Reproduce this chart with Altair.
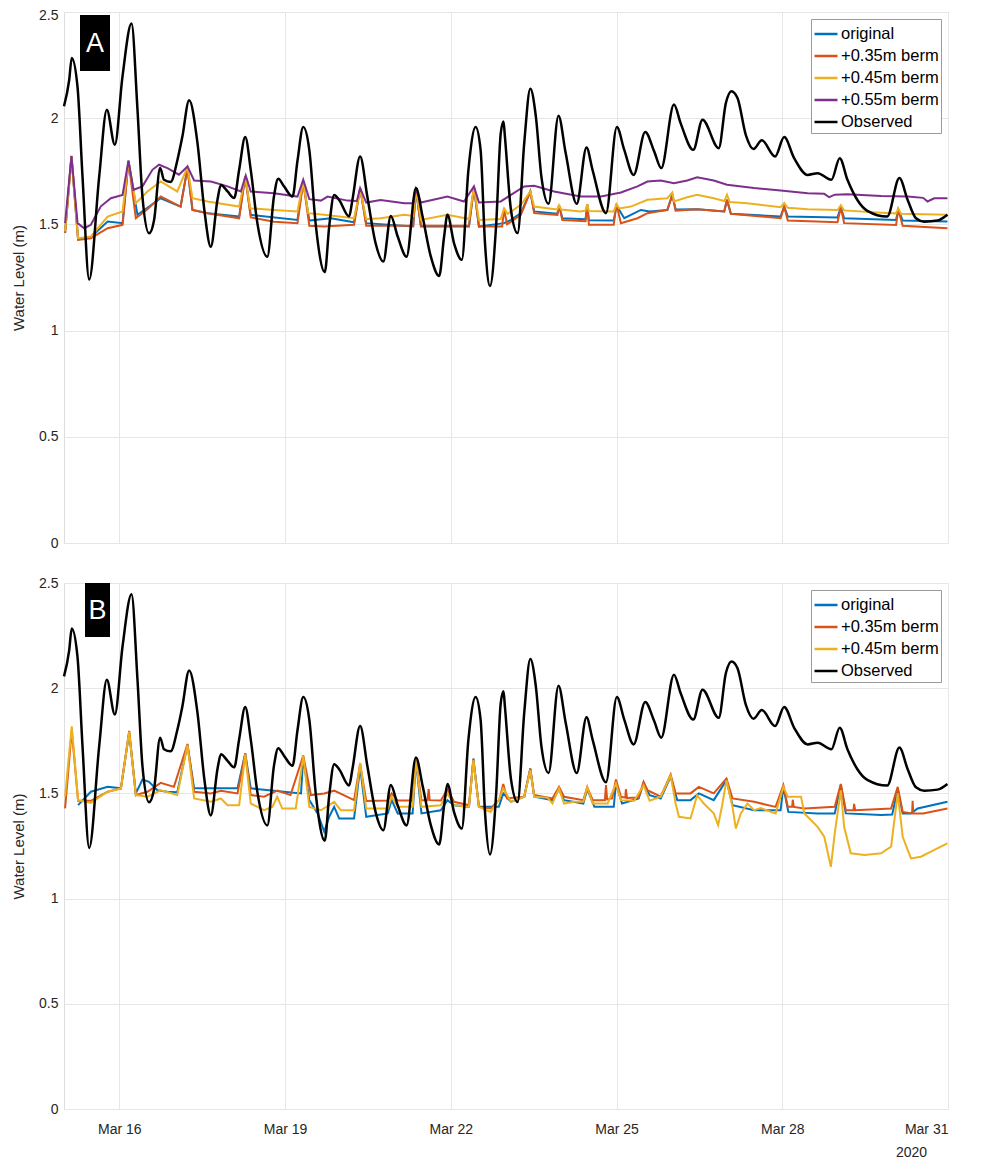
import altair as alt
import pandas as pd

START = "2020-03-15"

SERIES_A = ["original", "+0.35m berm", "+0.45m berm", "+0.55m berm", "Observed"]
SERIES_B = ["original", "+0.35m berm", "+0.45m berm", "Observed"]
COLORS = {"original": "#0072BD", "+0.35m berm": "#D95319", "+0.45m berm": "#EDB120",
          "+0.55m berm": "#7E2F8E", "Observed": "#000000"}
Y_TICKS = [0, 0.5, 1, 1.5, 2, 2.5]
X_TICK_DAYS = [16, 19, 22, 25, 28, 31]

# time in days since 15 Mar 2020 00:00, water level in m
OBS_T = [0.00, 0.094, 0.14, 0.244, 0.335, 0.456, 0.637, 0.775, 0.92, 1.059, 1.222, 1.33, 1.42, 1.54,
         1.63, 1.74, 1.81, 1.93, 2.05, 2.14, 2.265, 2.416, 2.54, 2.657, 2.778, 2.84, 2.96, 3.08, 3.17,
         3.28, 3.38, 3.50, 3.68, 3.80, 3.877, 3.985, 4.136, 4.226, 4.33, 4.44, 4.56, 4.72, 4.80, 4.89,
         4.98, 5.16, 5.22, 5.36, 5.49, 5.64, 5.78, 5.915, 6.04, 6.20, 6.37, 6.49, 6.64, 6.79, 6.88,
         6.94, 7.06, 7.20, 7.32, 7.45, 7.54, 7.62, 7.71, 7.82, 7.905, 7.955, 7.98, 8.09, 8.21, 8.33,
         8.44, 8.54, 8.64, 8.77, 8.95, 9.08, 9.28, 9.457, 9.566, 9.81, 10.006, 10.14, 10.31, 10.52,
         10.68, 10.81, 11.04, 11.16, 11.39, 11.556, 11.85, 11.98, 12.08, 12.19, 12.34, 12.48, 12.63,
         12.87, 13.035, 13.215, 13.46, 13.64, 13.89, 14.04, 14.18, 14.36, 14.54, 14.90, 15.12, 15.27,
         15.42, 15.57, 15.81, 15.99]
OBS_V = [2.056, 2.18, 2.284, 2.15, 1.725, 1.241, 1.725, 2.04, 1.875, 2.197, 2.446, 2.04, 1.63, 1.458,
         1.52, 1.765, 1.71, 1.70, 1.80, 1.91, 2.084, 1.883, 1.568, 1.395, 1.616, 1.686, 1.655, 1.624, 1.757,
         1.911, 1.757, 1.506, 1.348, 1.631, 1.715, 1.678, 1.631, 1.80, 1.958, 1.85, 1.49, 1.275, 1.49, 1.639,
         1.615, 1.537, 1.615, 1.82, 1.631, 1.411, 1.325, 1.54, 1.443, 1.348, 1.671, 1.537, 1.348, 1.257, 1.443,
         1.545, 1.411, 1.333, 1.757, 1.958, 1.851, 1.411, 1.21, 1.49, 1.93, 1.985, 1.914, 1.568, 1.459, 1.883,
         2.139, 2.009, 1.726, 1.597, 2.012, 1.836, 1.597, 1.862, 1.757, 1.553, 1.958, 1.851, 1.733, 1.935,
         1.845, 1.765, 2.064, 1.977, 1.851, 1.993, 1.859, 2.072, 2.127, 2.095, 1.922, 1.855, 1.896,
         1.82, 1.911, 1.812, 1.733, 1.741, 1.71, 1.812, 1.71, 1.615, 1.564, 1.537, 1.718, 1.615,
         1.529, 1.513, 1.518, 1.545]

# ---- Panel A ----
A_ORIG_T = [0.02, 0.135, 0.255, 0.486, 0.79, 1.06, 1.167, 1.33, 1.75, 2.11, 2.235, 2.325, 2.6, 3.17, 3.28,
            3.38, 4.226, 4.33, 4.44, 4.83, 5.25, 5.36, 5.47, 6.32, 6.37, 6.46, 7.33, 7.42, 7.51, 7.965,
            8.09, 8.27, 8.44, 8.51, 8.93, 8.96, 9.02, 9.44, 9.47, 9.5, 9.95, 10.0, 10.14, 10.44, 10.6,
            10.92, 11.01, 11.07, 11.46, 11.95, 12.0, 12.07, 12.97, 13.035, 13.1, 14.0, 14.06, 14.12,
            15.06, 15.1, 15.18, 15.99]
A_ORIG_V = [1.46, 1.82, 1.43, 1.44, 1.514, 1.506, 1.797, 1.545, 1.623, 1.584, 1.765, 1.568, 1.553, 1.537, 1.726,
            1.545, 1.521, 1.702, 1.518, 1.529, 1.51, 1.671, 1.506, 1.49, 1.666, 1.49, 1.49, 1.676, 1.49, 1.506,
            1.521, 1.553, 1.655, 1.561, 1.55, 1.59, 1.529, 1.524, 1.595, 1.52, 1.518, 1.59, 1.529, 1.568, 1.561,
            1.568, 1.639, 1.57, 1.571, 1.561, 1.616, 1.55, 1.537, 1.584, 1.537, 1.533, 1.58, 1.529,
            1.521, 1.57, 1.518, 1.514]

A_035_T = [0.02, 0.135, 0.255, 0.486, 0.79, 1.06, 1.167, 1.3, 1.51, 1.75, 2.11, 2.235, 2.325, 2.6, 3.17, 3.28,
           3.38, 3.8, 4.226, 4.33, 4.44, 4.71, 5.25, 5.36, 5.47, 6.32, 6.37, 6.46, 7.33, 7.42, 7.51, 7.93,
           7.965, 8.02, 8.27, 8.44, 8.51, 8.93, 8.96, 9.02, 9.44, 9.47, 9.5, 9.95, 10.0, 10.08, 10.38, 10.56,
           10.92, 11.01, 11.07, 11.46, 11.95, 12.0, 12.07, 12.97, 13.035, 13.1, 14.0, 14.06, 14.12, 15.06,
           15.1, 15.18, 15.99]
A_035_V = [1.46, 1.82, 1.427, 1.435, 1.482, 1.498, 1.797, 1.529, 1.571, 1.631, 1.584, 1.765, 1.568, 1.553, 1.529, 1.726,
           1.533, 1.513, 1.506, 1.702, 1.494, 1.49, 1.498, 1.671, 1.494, 1.494, 1.666, 1.494, 1.494, 1.676, 1.49, 1.49,
           1.57, 1.50, 1.545, 1.655, 1.553, 1.545, 1.59, 1.521, 1.515, 1.595, 1.498, 1.498, 1.595, 1.506, 1.529, 1.553,
           1.568, 1.639, 1.565, 1.571, 1.561, 1.616, 1.55, 1.529, 1.584, 1.518, 1.51, 1.58, 1.506, 1.497,
           1.57, 1.494, 1.482]

A_045_T = [0.02, 0.135, 0.255, 0.486, 0.79, 1.06, 1.167, 1.3, 1.51, 1.75, 2.05, 2.235, 2.325, 2.6, 3.17, 3.28,
           3.37, 3.8, 4.226, 4.33, 4.42, 4.71, 5.25, 5.36, 5.47, 5.73, 6.16, 6.32, 6.37, 6.46, 6.94, 7.33,
           7.42, 7.51, 7.905, 7.965, 8.03, 8.27, 8.44, 8.51, 8.75, 8.93, 8.96, 9.0, 9.35, 9.44, 9.47, 9.5,
           9.95, 10.0, 10.05, 10.26, 10.56, 10.92, 11.01, 11.04, 11.28, 11.46, 11.76, 11.95, 12.0, 12.05,
           12.37, 12.97, 13.035, 13.1, 13.46, 14.0, 14.06, 14.12, 14.79, 15.06, 15.1, 15.15, 15.99]
A_045_V = [1.467, 1.82, 1.435, 1.443, 1.537, 1.561, 1.797, 1.6, 1.655, 1.702, 1.655, 1.77, 1.623, 1.608, 1.584, 1.726,
           1.576, 1.568, 1.561, 1.702, 1.553, 1.545, 1.529, 1.663, 1.525, 1.529, 1.545, 1.54, 1.663, 1.521, 1.545, 1.525,
           1.676, 1.521, 1.525, 1.576, 1.55, 1.592, 1.655, 1.584, 1.576, 1.57, 1.59, 1.57, 1.561, 1.565, 1.595, 1.563,
           1.561, 1.595, 1.575, 1.584, 1.616, 1.623, 1.65, 1.608, 1.628, 1.639, 1.623, 1.61, 1.64, 1.605,
           1.6, 1.581, 1.6, 1.578, 1.571, 1.568, 1.59, 1.566, 1.555, 1.552, 1.575, 1.55, 1.545]

A_055_T = [0.02, 0.135, 0.245, 0.366, 0.486, 0.667, 0.848, 1.06, 1.167, 1.258, 1.42, 1.6, 1.72, 1.873, 2.08,
           2.235, 2.355, 2.66, 2.96, 3.2, 3.29, 3.38, 3.8, 4.226, 4.33, 4.44, 4.65, 4.77, 5.13, 5.3, 5.36,
           5.47, 5.73, 6.16, 6.32, 6.37, 6.46, 6.94, 7.24, 7.42, 7.51, 7.905, 8.09, 8.33, 8.51, 8.87, 9.35,
           9.72, 10.08, 10.38, 10.56, 10.8, 11.04, 11.28, 11.46, 11.76, 12.0, 12.49, 12.97, 13.46, 13.76,
           13.85, 13.95, 14.18, 14.79, 15.27, 15.55, 15.63, 15.75, 15.99]
A_055_V = [1.506, 1.823, 1.506, 1.482, 1.498, 1.585, 1.623, 1.639, 1.801, 1.663, 1.679, 1.757, 1.781, 1.765, 1.734,
           1.773, 1.707, 1.702, 1.679, 1.655, 1.73, 1.655, 1.647, 1.631, 1.71, 1.619, 1.612, 1.631, 1.612, 1.61, 1.671,
           1.603, 1.615, 1.6, 1.60, 1.666, 1.603, 1.631, 1.608, 1.679, 1.603, 1.608, 1.639, 1.679, 1.682, 1.655, 1.631,
           1.631, 1.65, 1.679, 1.702, 1.707, 1.694, 1.707, 1.722, 1.707, 1.687, 1.671, 1.66, 1.647, 1.644,
           1.628, 1.64, 1.642, 1.634, 1.631, 1.625, 1.608, 1.623, 1.623]

# ---- Panel B ----
B_ORIG_T = [0.255, 0.486, 0.79, 1.03, 1.18, 1.3, 1.42, 1.54, 1.69, 1.87, 2.05, 2.235, 2.355, 3.14, 3.28, 3.38,
            3.8, 4.29, 4.33, 4.44, 4.59, 4.71, 4.8, 4.89, 4.98, 5.25, 5.36, 5.47, 5.86, 5.93, 6.04, 6.31,
            6.37, 6.47, 6.82, 6.94, 7.06, 7.33, 7.41, 7.51, 7.87, 7.95, 8.09, 8.33, 8.44, 8.51, 8.84, 8.96,
            9.05, 9.40, 9.47, 9.6, 9.95, 9.99, 10.1, 10.40, 10.49, 10.6, 10.8, 10.98, 11.1, 11.34, 11.49,
            11.76, 11.99, 12.1, 12.49, 12.97, 13.02, 13.11, 13.64, 13.95, 14.06, 14.15, 14.79, 14.99,
            15.09, 15.18, 15.33, 15.45, 15.99]
B_ORIG_V = [1.444, 1.508, 1.531, 1.524, 1.79, 1.50, 1.566, 1.555, 1.515, 1.508, 1.505, 1.73, 1.524, 1.524, 1.69, 1.524,
            1.513, 1.5, 1.67, 1.468, 1.405, 1.318, 1.389, 1.436, 1.381, 1.381, 1.625, 1.389, 1.405, 1.468, 1.405, 1.405,
            1.655, 1.405, 1.42, 1.468, 1.444, 1.436, 1.666, 1.436, 1.436, 1.5, 1.46, 1.484, 1.618, 1.484, 1.468, 1.52,
            1.468, 1.452, 1.52, 1.436, 1.436, 1.547, 1.452, 1.476, 1.55, 1.492, 1.476, 1.58, 1.468, 1.468, 1.5,
            1.468, 1.563, 1.444, 1.42, 1.42, 1.531, 1.412, 1.405, 1.405, 1.54, 1.405, 1.397, 1.4,
            1.52, 1.405, 1.405, 1.428, 1.46]

B_035_T = [0.02, 0.14, 0.255, 0.486, 0.79, 1.03, 1.18, 1.3, 1.51, 1.75, 1.99, 2.235, 2.355, 2.66, 2.84, 3.14,
           3.28, 3.38, 3.62, 3.86, 4.1, 4.33, 4.47, 4.71, 4.89, 5.25, 5.36, 5.47, 5.86, 5.93, 6.04, 6.31,
           6.37, 6.47, 6.58, 6.6, 6.62, 6.82, 6.94, 7.06, 7.33, 7.41, 7.51, 7.72, 7.88, 7.95, 8.02, 8.33,
           8.44, 8.51, 8.84, 8.96, 9.05, 9.40, 9.47, 9.57, 9.79, 9.81, 9.83, 9.92, 9.99, 10.08, 10.16,
           10.17, 10.19, 10.40, 10.49, 10.56, 10.8, 10.98, 11.07, 11.34, 11.49, 11.76, 11.99, 12.1, 12.49,
           12.88, 13.02, 13.1, 13.18, 13.19, 13.21, 13.4, 13.95, 14.06, 14.15, 14.29, 14.3, 14.32, 14.97,
           15.09, 15.18, 15.35, 15.36, 15.37, 15.55, 15.99]
B_035_V = [1.429, 1.80, 1.465, 1.465, 1.508, 1.524, 1.797, 1.492, 1.508, 1.55, 1.531, 1.735, 1.508, 1.5, 1.513, 1.5,
           1.69, 1.492, 1.484, 1.513, 1.492, 1.68, 1.492, 1.5, 1.513, 1.468, 1.64, 1.464, 1.466, 1.5, 1.466, 1.466,
           1.655, 1.468, 1.468, 1.52, 1.468, 1.466, 1.518, 1.46, 1.444, 1.66, 1.436, 1.428, 1.47, 1.545, 1.476, 1.484,
           1.618, 1.492, 1.476, 1.531, 1.484, 1.468, 1.53, 1.468, 1.468, 1.539, 1.472, 1.476, 1.566, 1.484, 1.48,
           1.52, 1.478, 1.48, 1.555, 1.515, 1.484, 1.59, 1.5, 1.5, 1.531, 1.5, 1.571, 1.476, 1.46,
           1.436, 1.539, 1.436, 1.436, 1.47, 1.436, 1.428, 1.436, 1.545, 1.42, 1.42, 1.45, 1.42, 1.428,
           1.531, 1.412, 1.405, 1.465, 1.405, 1.405, 1.428]

B_045_T = [0.02, 0.14, 0.255, 0.486, 0.79, 1.03, 1.18, 1.3, 1.51, 1.75, 2.05, 2.235, 2.355, 2.66, 2.84, 2.96,
           3.17, 3.28, 3.38, 3.62, 3.77, 3.86, 3.95, 4.195, 4.33, 4.44, 4.65, 4.89, 5.01, 5.25, 5.36, 5.47,
           5.86, 5.93, 6.04, 6.31, 6.37, 6.47, 6.82, 6.94, 7.06, 7.33, 7.41, 7.51, 7.72, 7.87, 7.95, 8.09,
           8.33, 8.44, 8.51, 8.75, 8.84, 8.96, 9.05, 9.23, 9.40, 9.47, 9.57, 9.84, 9.99, 10.08, 10.32,
           10.49, 10.6, 10.8, 10.98, 11.07, 11.13, 11.34, 11.46, 11.58, 11.76, 11.84, 11.91, 11.99, 12.1,
           12.16, 12.25, 12.37, 12.49, 12.61, 12.88, 13.02, 13.1, 13.34, 13.4, 13.64, 13.76, 13.88, 13.95,
           14.06, 14.12, 14.24, 14.49, 14.79, 14.97, 15.09, 15.18, 15.33, 15.51, 15.69, 15.99]
B_045_V = [1.484, 1.819, 1.468, 1.455, 1.508, 1.524, 1.792, 1.492, 1.484, 1.515, 1.492, 1.73, 1.476, 1.46, 1.476, 1.444,
           1.444, 1.685, 1.452, 1.42, 1.436, 1.484, 1.428, 1.428, 1.677, 1.436, 1.42, 1.46, 1.42, 1.42, 1.645, 1.428,
           1.428, 1.484, 1.436, 1.436, 1.661, 1.436, 1.444, 1.5, 1.444, 1.436, 1.658, 1.436, 1.412, 1.468, 1.524, 1.46,
           1.484, 1.611, 1.484, 1.48, 1.452, 1.524, 1.452, 1.46, 1.46, 1.529, 1.452, 1.452, 1.547, 1.468, 1.465,
           1.539, 1.465, 1.484, 1.585, 1.452, 1.389, 1.381, 1.492, 1.452, 1.405, 1.349, 1.44, 1.563, 1.436,
           1.333, 1.405, 1.452, 1.42, 1.43, 1.405, 1.531, 1.484, 1.484, 1.405, 1.341, 1.294, 1.151, 1.31,
           1.515, 1.341, 1.215, 1.207, 1.215, 1.247, 1.5, 1.294, 1.191, 1.199, 1.223, 1.262]


def frame(name, t, v):
    times = pd.Timestamp(START) + pd.to_timedelta(t, unit="D")
    return pd.DataFrame({"time": times.strftime("%Y-%m-%dT%H:%M:%S"), "level": v, "series": name})


FONT = "Liberation Sans"
GRID = "#e6e6e6"
TXT = "#262626"


def panel(series, tag, tag_box, tag_xy, height, bottom):
    dom = [s[0] for s in series]
    color = alt.Color("series:N",
                      scale=alt.Scale(domain=dom, range=[COLORS[d] for d in dom]),
                      legend=alt.Legend(title=None, orient="top-right", offset=7,
                                        fillColor="white", strokeColor="#9a9a9a", padding=2,
                                        symbolType="stroke", symbolSize=529, symbolStrokeWidth=2.5,
                                        labelFontSize=16.5, labelOffset=2, rowPadding=0,
                                        labelColor="#000000", labelFont=FONT))
    xvals = [alt.DateTime(year=2020, month=3, date=d) for d in X_TICK_DAYS]
    if bottom:
        xaxis = alt.Axis(values=xvals, format="%b %d", labelFontSize=14, labelPadding=13,
                         ticks=False, domain=False, gridColor=GRID, labelColor=TXT,
                         title="2020", titleFontSize=14, titleFontWeight="normal", titleColor=TXT,
                         titleX=847, titleY=36, titleAlign="center", titleBaseline="top")
        label_offset = 0
    else:
        xaxis = alt.Axis(values=xvals, labels=False, ticks=False, domain=False,
                         gridColor=GRID, title=None)
        label_offset = {"condition": {"test": "datum.value == 2.5", "value": 3}, "value": 0}
    x = alt.X("time:T", axis=xaxis,
              scale=alt.Scale(domain=[alt.DateTime(year=2020, month=3, date=15),
                                      alt.DateTime(year=2020, month=3, date=31)]))
    y = alt.Y("level:Q", scale=alt.Scale(domain=[0, 2.5]),
              axis=alt.Axis(values=Y_TICKS, format=".1~f", labelFontSize=14, labelPadding=6,
                            labelOffset=label_offset,
                            ticks=False, domain=False, gridColor=GRID, labelColor=TXT,
                            title="Water Level (m)", titleFontSize=15, titleFontWeight="normal",
                            titleColor=TXT, titlePadding=12))
    layers = []
    for name, t, v in series:
        obs = name == "Observed"
        layers.append(
            alt.Chart(frame(name, t, v)).mark_line(
                strokeWidth=2.5 if obs else 2,
                interpolate="monotone" if obs else "linear",
            ).encode(x=x, y=y, color=color)
        )
    one = pd.DataFrame({"k": [0]})
    x0, y0, x1, y1 = tag_box
    layers.append(alt.Chart(one).mark_rect(color="black").encode(
        x=alt.value(x0), x2=alt.value(x1), y=alt.value(y0), y2=alt.value(y1)))
    layers.append(alt.Chart(one).mark_text(text=tag, color="white", fontSize=27, font=FONT,
                                           align="center", baseline="middle").encode(
        x=alt.value(tag_xy[0]), y=alt.value(tag_xy[1])))
    return alt.layer(*layers).properties(width=884, height=height)


panel_a = panel([("original", A_ORIG_T, A_ORIG_V), ("+0.35m berm", A_035_T, A_035_V),
                 ("+0.45m berm", A_045_T, A_045_V), ("+0.55m berm", A_055_T, A_055_V),
                 ("Observed", OBS_T, OBS_V)],
                "A", (16, 3, 46, 59), (31, 32), 531, False)
panel_b = panel([("original", B_ORIG_T, B_ORIG_V), ("+0.35m berm", B_035_T, B_035_V),
                 ("+0.45m berm", B_045_T, B_045_V), ("Observed", OBS_T, OBS_V)],
                "B", (21, 0, 46, 54), (33.5, 28), 526, True)

chart = alt.vconcat(panel_a, panel_b, spacing=40, bounds="flush").resolve_scale(
    color="independent").resolve_legend(color="independent").properties(
    padding={"left": 3, "top": -1, "right": 5, "bottom": 0}, background="white"
).configure_view(stroke="#8a8a8a", strokeWidth=1).configure(font=FONT)

chart.save("out.html", embed_options={"renderer": "svg", "actions": False})
